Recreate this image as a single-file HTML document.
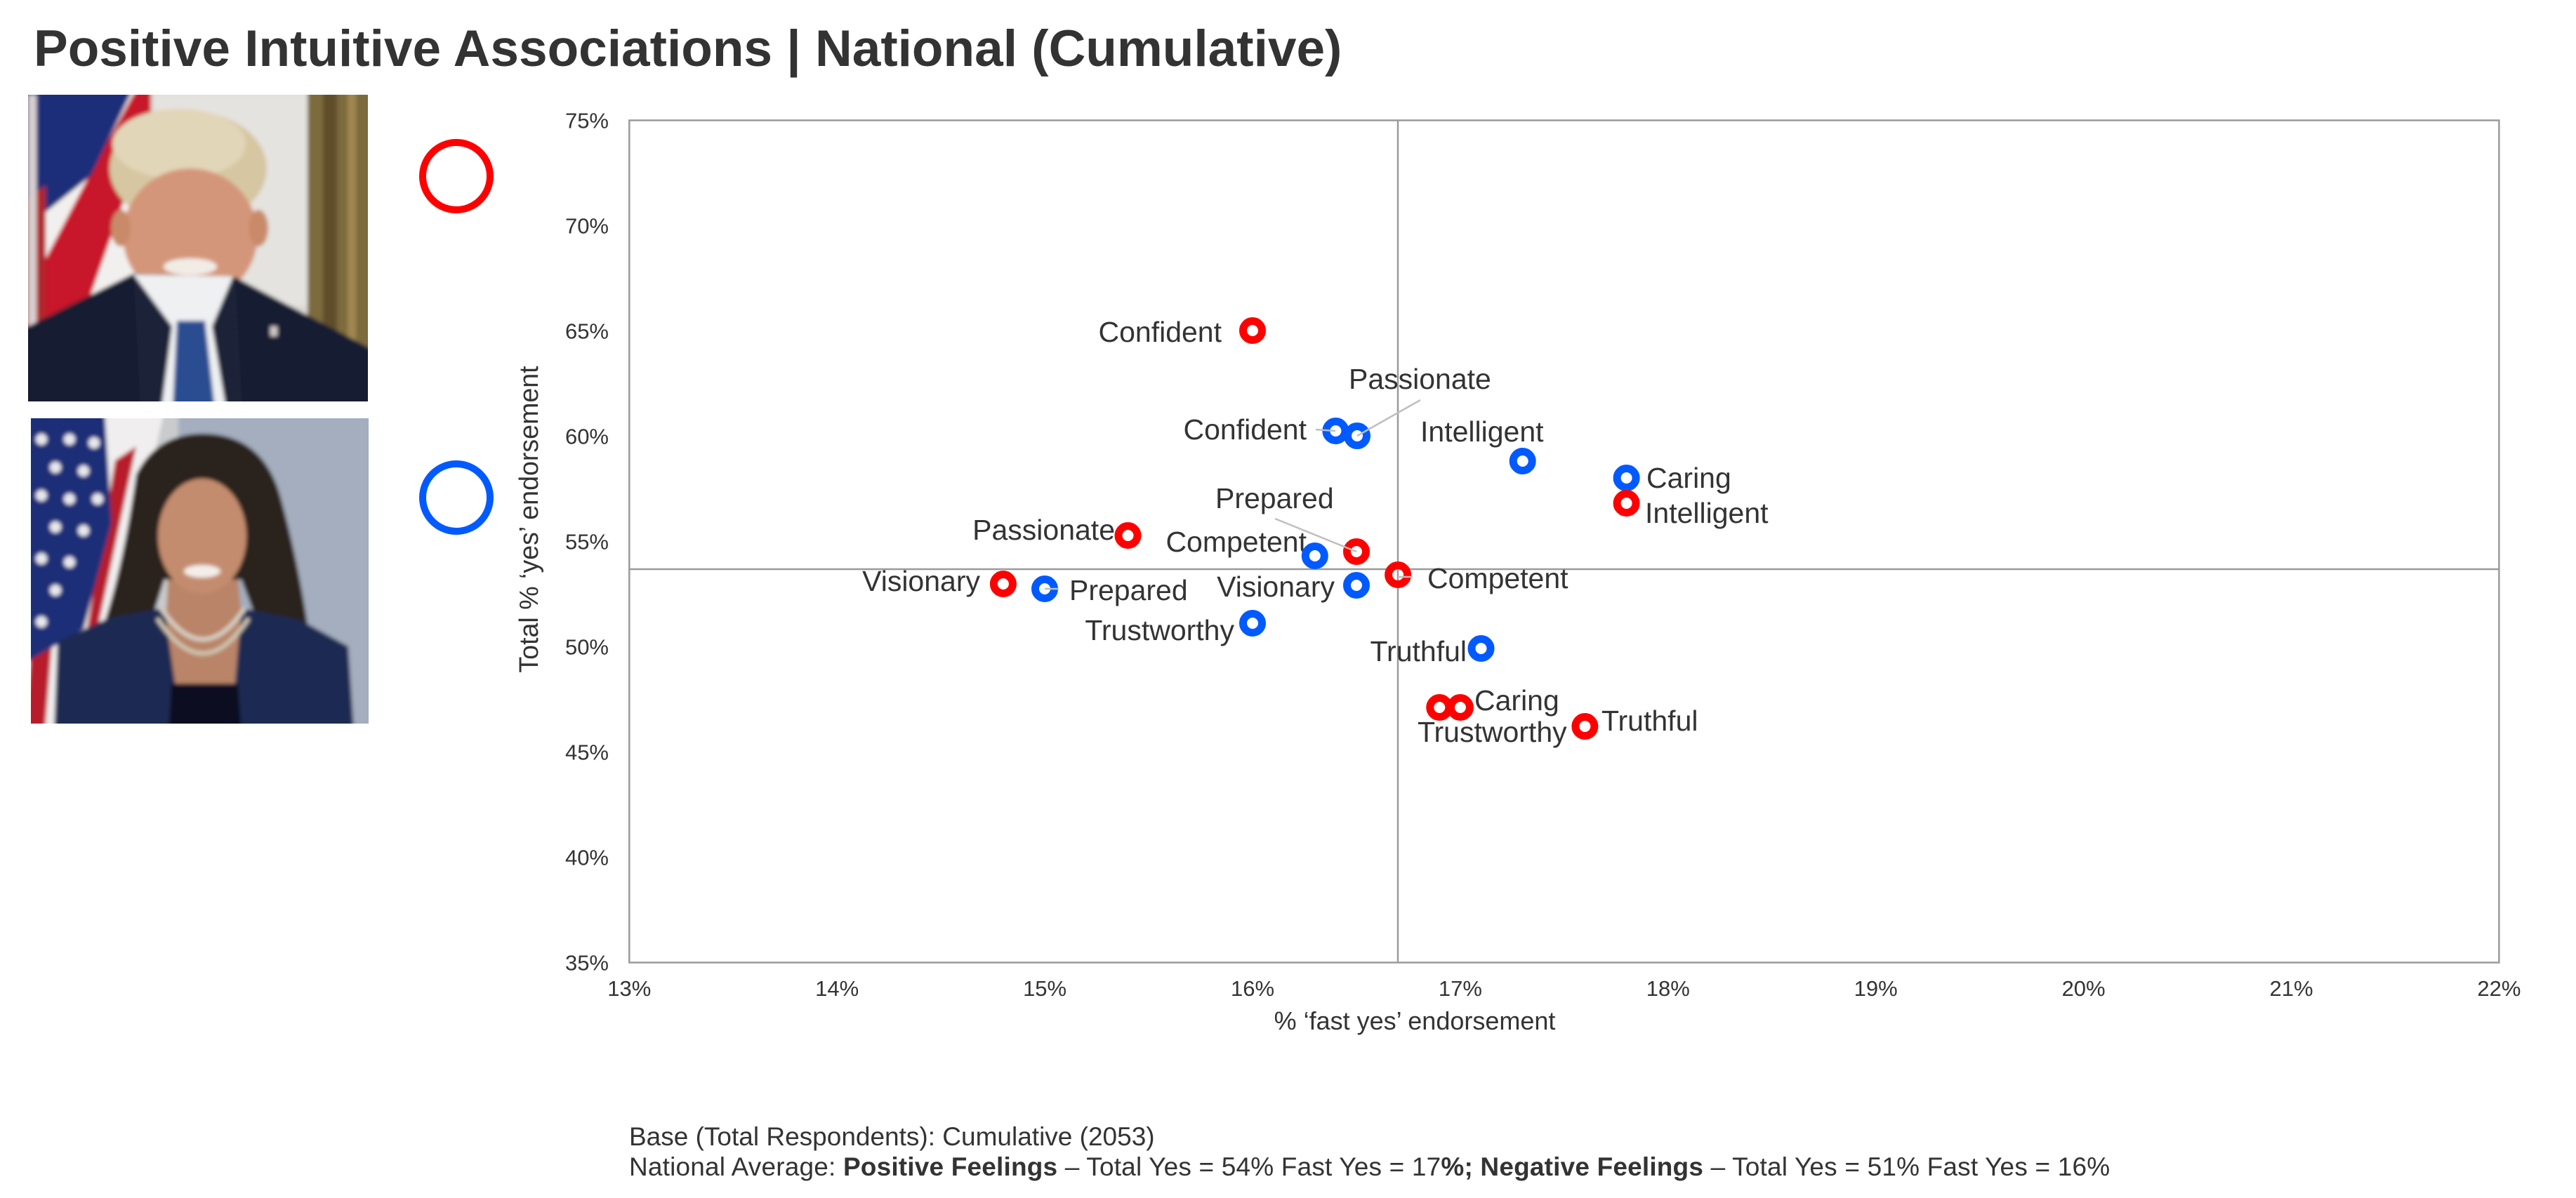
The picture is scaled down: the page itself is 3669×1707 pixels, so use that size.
<!DOCTYPE html>
<html>
<head>
<meta charset="utf-8">
<style>
  html,body{margin:0;padding:0;background:#ffffff;}
  body{width:3669px;height:1707px;overflow:hidden;}
  svg{display:block;}
  text{font-family:"Liberation Sans", Arial, sans-serif;fill:#333333;}
</style>
</head>
<body>
<svg width="3669" height="1707" viewBox="0 0 3669 1707" xmlns="http://www.w3.org/2000/svg">
  <defs>
    <filter id="soft" x="-5%" y="-5%" width="110%" height="110%">
      <feGaussianBlur stdDeviation="3"/>
    </filter>
    <clipPath id="clipT"><rect x="0" y="0" width="484" height="437"/></clipPath>
    <clipPath id="clipH"><rect x="0" y="0" width="481" height="435"/></clipPath>
  </defs>
  <rect x="0" y="0" width="3669" height="1707" fill="#ffffff"/>

  <!-- Title -->
  <text x="48" y="94" font-size="73" font-weight="bold" fill="#333333">Positive Intuitive Associations | National (Cumulative)</text>

  <!-- Trump photo approximation -->
  <g transform="translate(40,135)" clip-path="url(#clipT)">
    <g filter="url(#soft)">
      <rect x="-10" y="-10" width="504" height="457" fill="#dcdbd6"/>
      <rect x="180" y="0" width="230" height="300" fill="#e4e3df"/>
      <rect x="398" y="-10" width="96" height="457" fill="#7d6a3e"/>
      <rect x="420" y="-10" width="20" height="457" fill="#5e4d2a"/>
      <rect x="455" y="-10" width="12" height="457" fill="#a08850"/>
      <polygon points="-10,-10 175,-10 150,340 -10,340" fill="#f2f0ee"/>
      <polygon points="95,100 155,-10 175,-10 175,40 70,340 -10,340 -10,300" fill="#c8192a"/>
      <polygon points="-10,-10 150,-10 90,115 -10,195" fill="#1f2f7a"/>
      <polygon points="-10,150 25,130 25,340 -10,340" fill="#b0262e"/>
      <polygon points="0,0 12,0 12,340 0,340" fill="#d8d0d0"/>
      <ellipse cx="228" cy="105" rx="112" ry="82" fill="#d6c7a2"/>
      <ellipse cx="215" cy="70" rx="95" ry="50" fill="#e2d6b8"/>
      <rect x="170" y="230" width="120" height="70" fill="#c98a6a"/>
      <ellipse cx="231" cy="200" rx="96" ry="95" fill="#d4967a"/>
      <ellipse cx="132" cy="190" rx="14" ry="26" fill="#c98a6a"/>
      <ellipse cx="328" cy="190" rx="14" ry="26" fill="#c98a6a"/>
      <ellipse cx="231" cy="245" rx="38" ry="12" fill="#f2ece6"/>
      <polygon points="-10,335 150,255 295,260 494,365 494,447 -10,447" fill="#151c30"/>
      <polygon points="150,256 292,259 302,447 177,447" fill="#eef0f2"/>
      <polygon points="150,256 205,330 190,447 160,447" fill="#1a2238"/>
      <polygon points="292,259 262,330 282,447 302,447" fill="#1a2238"/>
      <polygon points="212,322 252,322 266,447 206,447" fill="#2b4d92"/>
      <rect x="345" y="330" width="10" height="14" fill="#d0c8c8"/>
    </g>
  </g>

  <!-- Harris photo approximation -->
  <g transform="translate(44,596)" clip-path="url(#clipH)">
    <g filter="url(#soft)">
      <rect x="-10" y="-10" width="501" height="455" fill="#a4aebe"/>
      <rect x="100" y="-10" width="110" height="320" fill="#c9cbcd"/>
      <polygon points="105,-10 190,-10 120,300 60,445 -10,445 -10,340" fill="#f0eeee"/>
      <polygon points="120,60 150,40 95,300 60,445 40,445 80,300" fill="#b81c2c"/>
      <polygon points="150,150 175,120 110,330 85,445 70,445" fill="#b81c2c"/>
      <polygon points="0,330 30,320 20,445 -10,445" fill="#b81c2c"/>
      <polygon points="-10,-10 105,-10 115,150 75,300 -10,350" fill="#1d2f78"/>
      <g fill="#e8e8f0">
        <circle cx="15" cy="30" r="8"/><circle cx="55" cy="30" r="8"/><circle cx="90" cy="35" r="8"/>
        <circle cx="35" cy="70" r="8"/><circle cx="75" cy="75" r="8"/>
        <circle cx="15" cy="110" r="8"/><circle cx="55" cy="115" r="8"/><circle cx="95" cy="115" r="8"/>
        <circle cx="35" cy="155" r="8"/><circle cx="75" cy="160" r="8"/>
        <circle cx="15" cy="200" r="8"/><circle cx="55" cy="205" r="8"/>
        <circle cx="35" cy="245" r="8"/><circle cx="15" cy="290" r="8"/>
      </g>
      <path d="M150,80 Q180,20 250,22 Q330,25 355,110 Q380,200 395,300 L330,310 L300,230 L190,230 L165,310 L100,305 Q130,220 150,80 Z" fill="#2c201a"/>
      <polygon points="195,230 295,230 310,380 188,380" fill="#b98468"/>
      <ellipse cx="244" cy="168" rx="63" ry="82" fill="#c48c6e"/>
      <ellipse cx="244" cy="218" rx="26" ry="9" fill="#f4eeea"/>
      <polygon points="33,445 38,318 110,285 190,270 215,445" fill="#1d2a52"/>
      <polygon points="300,270 385,288 452,325 460,445 285,445" fill="#1d2a52"/>
      <polygon points="188,300 200,380 198,445 215,445" fill="#1d2a52"/>
      <polygon points="200,378 295,378 300,445 196,445" fill="#0c1020"/>
      <path d="M185,270 Q245,360 305,270" fill="none" stroke="#d8d2c6" stroke-width="6"/>
      <path d="M180,285 Q245,385 310,285" fill="none" stroke="#cfc6b2" stroke-width="6"/>
    </g>
  </g>

  <!-- Legend circles -->
  <circle cx="650" cy="251" r="48" fill="none" stroke="#ff0000" stroke-width="10"/>
  <circle cx="650" cy="709" r="48" fill="none" stroke="#005aff" stroke-width="10"/>

  <!-- Plot frame -->
  <rect x="896.3" y="171.5" width="2663.1" height="1200" fill="none" stroke="#9a9a9a" stroke-width="2.5"/>
  <line x1="1991" y1="171.5" x2="1991" y2="1371.5" stroke="#9a9a9a" stroke-width="2.5"/>
  <line x1="896.3" y1="811" x2="3559.4" y2="811" stroke="#9a9a9a" stroke-width="2.5"/>

  <!-- Y tick labels -->
  <g font-size="31" text-anchor="end">
    <text x="867" y="182.5">75%</text>
    <text x="867" y="332.5">70%</text>
    <text x="867" y="482.5">65%</text>
    <text x="867" y="632.5">60%</text>
    <text x="867" y="782.5">55%</text>
    <text x="867" y="932.5">50%</text>
    <text x="867" y="1082.5">45%</text>
    <text x="867" y="1232.5">40%</text>
    <text x="867" y="1382.5">35%</text>
  </g>
  <!-- X tick labels -->
  <g font-size="31" text-anchor="middle">
    <text x="896.3" y="1419">13%</text>
    <text x="1192.2" y="1419">14%</text>
    <text x="1488.1" y="1419">15%</text>
    <text x="1784" y="1419">16%</text>
    <text x="2079.9" y="1419">17%</text>
    <text x="2375.8" y="1419">18%</text>
    <text x="2671.7" y="1419">19%</text>
    <text x="2967.6" y="1419">20%</text>
    <text x="3263.5" y="1419">21%</text>
    <text x="3559.4" y="1419">22%</text>
  </g>

  <!-- Axis titles -->
  <text x="2015" y="1467" font-size="36" text-anchor="middle">% ‘fast yes’ endorsement</text>
  <text transform="translate(766,740) rotate(-90)" x="0" y="0" font-size="37.6" text-anchor="middle">Total % ‘yes’ endorsement</text>

  <!-- Data labels -->
  <g font-size="41">
    <text x="1740" y="487" text-anchor="end">Confident</text>
    <text x="1588" y="769" text-anchor="end">Passionate</text>
    <text x="1731" y="724">Prepared</text>
    <text x="1396" y="842" text-anchor="end">Visionary</text>
    <text x="2033" y="838">Competent</text>
    <text x="2343" y="745">Intelligent</text>
    <text x="2100" y="1012">Caring</text>
    <text x="2019" y="1057">Trustworthy</text>
    <text x="2281" y="1041">Truthful</text>
    <text x="1861" y="626" text-anchor="end">Confident</text>
    <text x="1921" y="554">Passionate</text>
    <text x="2023" y="629">Intelligent</text>
    <text x="2345" y="695">Caring</text>
    <text x="1861" y="786" text-anchor="end">Competent</text>
    <text x="1523" y="855">Prepared</text>
    <text x="1901" y="850" text-anchor="end">Visionary</text>
    <text x="1758" y="912" text-anchor="end">Trustworthy</text>
    <text x="2089" y="942" text-anchor="end">Truthful</text>
  </g>

  <!-- Blue markers -->
  <g fill="none" stroke="#005aff" stroke-width="11">
    <circle cx="1902.4" cy="614" r="13.5"/>
    <circle cx="1933" cy="621" r="13.5"/>
    <circle cx="2168.7" cy="657" r="13.5"/>
    <circle cx="2316.6" cy="681" r="13.5"/>
    <circle cx="1872.8" cy="792" r="13.5"/>
    <circle cx="1488" cy="839" r="13.5"/>
    <circle cx="1932" cy="834" r="13.5"/>
    <circle cx="1784" cy="888" r="13.5"/>
    <circle cx="2109.5" cy="924" r="13.5"/>
  </g>
  <!-- Red markers -->
  <g fill="none" stroke="#ff0000" stroke-width="11">
    <circle cx="1784" cy="471" r="13.5"/>
    <circle cx="1606.5" cy="763" r="13.5"/>
    <circle cx="1932" cy="786" r="13.5"/>
    <circle cx="1428.9" cy="832" r="13.5"/>
    <circle cx="1991.1" cy="819" r="13.5"/>
    <circle cx="2316.6" cy="717" r="13.5"/>
    <circle cx="2050.3" cy="1008" r="13.5"/>
    <circle cx="2079.9" cy="1008" r="13.5"/>
    <circle cx="2257.4" cy="1035" r="13.5"/>
  </g>

  <!-- Leader lines -->
  <g stroke="#bfbfbf" stroke-width="2.5" fill="none">
    <line x1="1874" y1="612" x2="1902" y2="614"/>
    <line x1="2023" y1="570" x2="1933" y2="621"/>
    <line x1="1816" y1="739" x2="1932" y2="786"/>
    <line x1="1991" y1="822" x2="2012" y2="822"/>
    <line x1="1488" y1="839" x2="1508" y2="839"/>
  </g>

  <!-- Footnote -->
  <text x="896" y="1632" font-size="37">Base (Total Respondents): Cumulative (2053)</text>
  <text x="896" y="1675" font-size="37" letter-spacing="0.18">National Average: <tspan font-weight="bold">Positive Feelings</tspan> – Total Yes = 54% Fast Yes = 17<tspan font-weight="bold">%; Negative Feelings</tspan> – Total Yes = 51% Fast Yes = 16%</text>
</svg>
</body>
</html>
